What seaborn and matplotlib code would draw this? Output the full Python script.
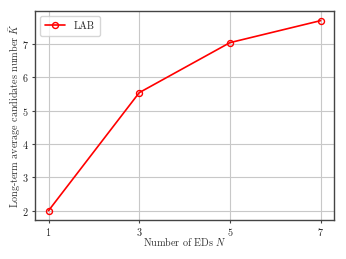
import numpy as np
import pandas as pd
import matplotlib
matplotlib.use("Agg")
import matplotlib.pyplot as plt
import seaborn as sns

num_eds=[1,3,5,7]
lab_values=[2.0,5.54,7.04,7.70]
series_label="LAB"

sns.set_style("ticks")
plt.rcParams["font.family"]=["cmr10","DejaVu Serif"]
plt.rcParams["mathtext.fontset"]="cm"
plt.rcParams["axes.formatter.use_mathtext"]=True
plt.rcParams["font.size"]=7.3

data=pd.DataFrame({"N":num_eds,"K":lab_values})

fig=plt.figure(figsize=(3.46,2.59),dpi=100)
ax=fig.add_axes([0.101,0.150,0.865,0.807])
sns.lineplot(data=data,x="N",y="K",ax=ax,color="red",marker="o",markersize=4.3,
             markerfacecolor="none",markeredgecolor="red",markeredgewidth=1.0,
             linewidth=1.2,label=series_label)
ax.set_xticks(num_eds)
ax.grid(True,color="#c8c8c8",linewidth=0.8)
for s in ax.spines.values():
    s.set_color("#444444")
    s.set_linewidth(1.0)
ax.tick_params(colors="#444444",labelcolor="#222222",labelsize=7.3,length=2.5,pad=2)
ax.set_xlabel(r"Number of EDs $N$",fontsize=7.3,color="#333333")
ax.set_ylabel(r"Long-term average candidates number $\bar{K}$",fontsize=7.3,color="#333333")
ax.xaxis.set_label_coords(0.5,-0.07)
ax.yaxis.set_label_coords(-0.04,0.5)
ax.legend(loc="upper left",fontsize=7.3,fancybox=True,framealpha=0.8,handlelength=2.0,borderpad=0.5)
fig.savefig("out.png",dpi=100)
